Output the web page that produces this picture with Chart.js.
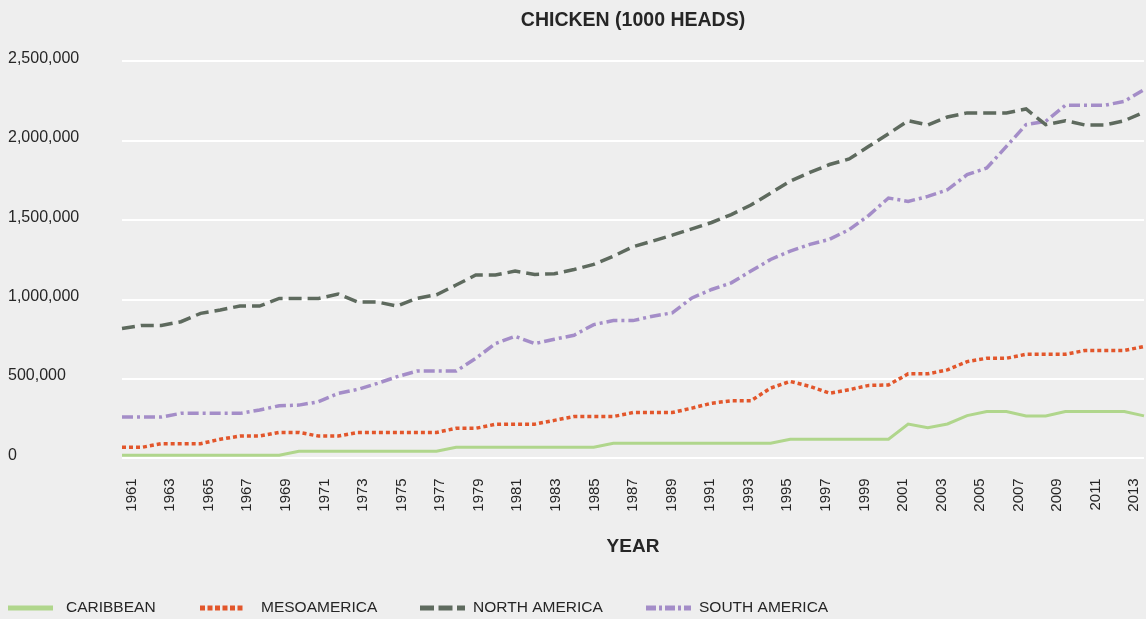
<!DOCTYPE html>
<html>
<head>
<meta charset="utf-8">
<script src="https://cdn.jsdelivr.net/npm/chart.js@4.4.1/dist/chart.umd.min.js"></script>
<style>
  html, body { margin: 0; padding: 0; background: #eeeeee; }
  #wrap { width: 1146px; height: 619px; position: relative; }
</style>
</head>
<body>
<div id="wrap"><canvas id="chart"></canvas></div>
<script>
// Chicken stocks, 1000 heads
const years = ['1961','1962','1963','1964','1965','1966','1967','1968','1969','1970',
  '1971','1972','1973','1974','1975','1976','1977','1978','1979','1980',
  '1981','1982','1983','1984','1985','1986','1987','1988','1989','1990',
  '1991','1992','1993','1994','1995','1996','1997','1998','1999','2000',
  '2001','2002','2003','2004','2005','2006','2007','2008','2009','2010',
  '2011','2012','2013'];

const caribbean = [19000,19000,19000,19000,19000,19000,19000,19000,19000,44000,
  44000,44000,44000,44000,44000,44000,44000,69000,69000,69000,
  69000,69000,69000,69000,69000,95000,95000,95000,95000,95000,
  95000,95000,95000,95000,120000,120000,120000,120000,120000,120000,
  216000,193000,216000,269000,294000,294000,267000,267000,294000,294000,
  294000,294000,267000];

const mesoamerica = [69000,69000,92000,92000,92000,120000,140000,140000,163000,163000,
  140000,140000,163000,163000,163000,163000,163000,189000,189000,214000,
  215000,215000,239000,263000,263000,263000,288000,288000,288000,316000,
  347000,362000,362000,442000,484000,453000,410000,432000,459000,462000,
  532000,532000,557000,609000,630000,630000,655000,655000,655000,679000,
  679000,679000,704000];

const northAmerica = [818000,837000,837000,860000,913000,934000,959000,959000,1007000,1007000,
  1007000,1034000,984000,984000,959000,1007000,1030000,1091000,1154000,1154000,
  1179000,1158000,1162000,1189000,1221000,1273000,1332000,1368000,1405000,1445000,
  1485000,1535000,1595000,1670000,1745000,1800000,1850000,1885000,1965000,2044000,
  2126000,2099000,2149000,2175000,2175000,2175000,2200000,2101000,2126000,2099000,
  2099000,2126000,2179000];

const southAmerica = [260000,260000,260000,283000,283000,283000,283000,304000,331000,335000,
  356000,409000,434000,472000,514000,549000,549000,549000,629000,723000,
  768000,722000,750000,775000,842000,867000,867000,895000,916000,1010000,
  1063000,1105000,1179000,1252000,1305000,1347000,1379000,1440000,1530000,1639000,
  1618000,1649000,1691000,1786000,1828000,1964000,2101000,2122000,2223000,2223000,
  2223000,2248000,2322000];

const yTicks = [0, 500000, 1000000, 1500000, 2000000, 2500000];

const textColor = '#262626';
const fontFamily = '"Liberation Sans", Arial, Helvetica, sans-serif';

// title centred over the plot area, legend left aligned at the bottom
const sheetText = {
  id: 'sheetText',
  afterDraw(chart) {
    const ctx = chart.ctx;
    const area = chart.chartArea;
    ctx.save();
    ctx.fillStyle = textColor;
    ctx.textAlign = 'center';
    ctx.textBaseline = 'middle';
    ctx.font = 'bold 19.5px ' + fontFamily;
    ctx.fillText('CHICKEN (1000 HEADS)', (area.left + area.right) / 2, 21);

    ctx.textAlign = 'left';
    ctx.font = '15.5px ' + fontFamily;
    const sampleX = [8, 200, 420, 646];
    const labelX = [66, 261, 473, 699];
    const y = 608;
    chart.data.datasets.forEach((ds, i) => {
      ctx.beginPath();
      ctx.strokeStyle = ds.borderColor;
      ctx.lineWidth = 5;
      ctx.lineCap = 'butt';
      ctx.setLineDash(ds.legendDash);
      ctx.moveTo(sampleX[i], y);
      ctx.lineTo(sampleX[i] + 45, y);
      ctx.stroke();
      ctx.setLineDash([]);
      ctx.fillText(ds.label, labelX[i], y);
    });
    ctx.restore();
  }
};

new Chart(document.getElementById('chart'), {
  type: 'line',
  data: {
    labels: years,
    datasets: [
      { label: 'CARIBBEAN', data: caribbean, borderColor: '#b0d68c', borderWidth: 3,
        borderDash: [], legendDash: [] },
      { label: 'MESOAMERICA', data: mesoamerica, borderColor: '#e2562b', borderWidth: 3.5,
        borderDash: [4, 3], legendDash: [5, 2.5] },
      { label: 'NORTH AMERICA', data: northAmerica, borderColor: '#5e6a5e', borderWidth: 3.5,
        borderDash: [13, 6], legendDash: [14, 4.5] },
      { label: 'SOUTH AMERICA', data: southAmerica, borderColor: '#a48dc8', borderWidth: 3.5,
        borderDash: [11, 4, 3, 4], legendDash: [10, 3, 3, 3] }
    ]
  },
  options: {
    responsive: true,
    maintainAspectRatio: false,
    animation: false,
    layout: { padding: { left: 8, right: 2, top: 61.3, bottom: 0 } },
    elements: {
      point: { radius: 0 },
      line: { tension: 0, borderCapStyle: 'butt', fill: false }
    },
    plugins: {
      legend: { display: false },
      tooltip: { enabled: false },
      title: { display: false }
    },
    scales: {
      x: { type: 'category', display: false, offset: false },
      x2: {
        type: 'category',
        labels: years,
        offset: true,
        position: 'bottom',
        grid: { display: false },
        border: { display: false },
        ticks: {
          autoSkip: false,
          maxRotation: 90,
          minRotation: 90,
          padding: 12,
          color: textColor,
          font: { family: fontFamily, size: 15 },
          callback(v, i) { return i % 2 === 0 ? years[i] : ''; }
        },
        title: {
          display: true,
          text: 'YEAR',
          color: textColor,
          font: { family: fontFamily, size: 19, weight: 'bold' },
          padding: { top: 0, bottom: 60.6 }
        },
        afterFit(scale) {
          scale.height = 160.7;
          scale.paddingLeft = 0;
          scale.paddingRight = 0;
        }
      },
      y: {
        min: 0,
        max: 2500000,
        afterBuildTicks(scale) { scale.ticks = yTicks.map(v => ({ value: v })); },
        grid: { color: '#ffffff', lineWidth: 2, drawTicks: false },
        border: { display: false },
        ticks: {
          crossAlign: 'far',
          labelOffset: -3,
          padding: 0,
          color: textColor,
          font: { family: fontFamily, size: 16 },
          callback: v => v.toLocaleString('en-US')
        },
        afterFit(scale) {
          scale.width = 114;
          scale.paddingTop = 0;
          scale.paddingBottom = 0;
        }
      }
    }
  },
  plugins: [sheetText]
});
</script>
</body>
</html>
